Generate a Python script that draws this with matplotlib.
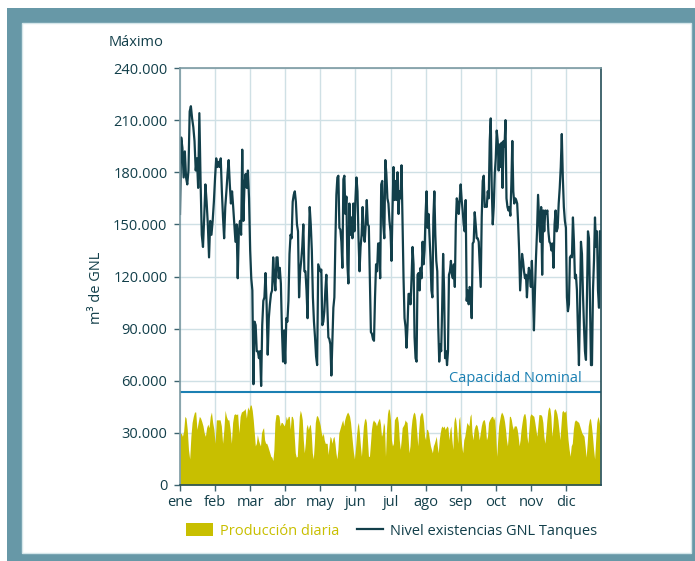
import numpy as np
import matplotlib
matplotlib.use("Agg")
from matplotlib import pyplot as plt
from matplotlib.patches import Rectangle, Patch
from matplotlib.lines import Line2D

plt.rcParams['font.family'] = ['Open Sans', 'DejaVu Sans']

meses = ["ene", "feb", "mar", "abr", "may", "jun", "jul", "ago", "sep", "oct", "nov", "dic"]

# Nivel de existencias en tanques (miles de m3), lecturas diarias por mes
nivel_ene = [156, 200, 194, 177, 192, 177, 173, 181, 215, 218, 211, 206, 198, 181, 188, 171, 214,
             175, 144, 137, 154, 173, 163, 150, 131, 152, 144, 152, 163]
nivel_feb = [177, 188, 183, 186, 183, 188, 169, 154, 142, 160, 169, 179, 187, 173, 162, 169, 160,
             150, 140, 150, 119, 146, 152, 144, 193, 152, 173, 179, 171, 181, 165]
nivel_mar = [135, 119, 112, 58, 94, 92, 77, 77, 73, 77, 57, 92, 106, 108, 122, 104, 75, 96, 104,
             110, 112, 131, 119, 112, 131, 131, 119, 125, 116, 89, 71, 89]
nivel_abr = [70, 96, 94, 106, 133, 144, 142, 163, 167, 169, 163, 150, 146, 108, 123, 129, 137, 150,
             123, 123, 112, 96, 135, 160, 150, 135, 108, 94, 85, 74, 69, 127, 125]
nivel_may = [123, 124, 92, 94, 100, 112, 121, 102, 85, 84, 81, 63, 83, 102, 108, 140, 167, 177, 178,
             148, 147, 140, 125, 176, 178, 156, 166, 127, 116, 162, 144, 154, 142, 162, 146]
nivel_jun = [164, 177, 169, 142, 123, 137, 144, 160, 144, 140, 150, 164, 150, 149, 119, 88, 87, 84,
             83, 108, 127, 123, 139, 139, 119, 173, 175, 150, 142, 187, 179, 165, 162, 152]
nivel_jul = [146, 129, 158, 183, 164, 175, 164, 180, 156, 169, 165, 184, 152, 119, 96, 91, 79, 92,
             110, 110, 104, 119, 137, 127, 85, 73, 71, 121, 122, 112, 125, 119, 140, 127, 135]
nivel_ago = [156, 169, 148, 156, 144, 131, 112, 108, 154, 169, 144, 129, 123, 91, 71, 81, 77, 102,
             133, 112, 73, 77, 69, 77, 121, 123, 129, 121, 119, 127, 114, 150, 165, 162, 156, 164]
nivel_sep = [173, 164, 158, 150, 146, 164, 106, 112, 104, 114, 112, 96, 139, 140, 157, 150, 142, 142,
             140, 127, 114, 154, 175, 178, 160, 161, 160, 169, 165, 198, 211, 171, 150, 160, 179]
nivel_oct = [188, 204, 198, 181, 196, 183, 197, 171, 198, 195, 210, 165, 160, 158, 160, 155, 173, 198,
             169, 162, 165, 164, 162, 150, 135, 112, 123, 133, 129, 123, 119, 121, 108, 119, 125, 121]
nivel_nov = [114, 129, 112, 89, 112, 131, 146, 167, 154, 140, 160, 121, 158, 146, 158, 156, 158, 146,
             140, 139, 135, 139, 125, 150, 158, 146, 148, 162, 171, 183, 202, 177, 160, 152]
nivel_dic = [148, 108, 100, 104, 131, 132, 131, 154, 140, 119, 121, 112, 89, 69, 102, 140, 133, 110,
             92, 77, 72, 110, 146, 142, 104, 69, 69, 112, 129, 154, 137, 146, 112, 102, 146]

# Producción diaria (miles de m3)
prod_ene = [29, 30, 28, 31, 39.5, 38.5, 32, 20.5, 15, 28, 36, 39.5, 42, 42, 32, 36, 39.5, 38.5, 36.5,
            34, 30, 28, 33, 35, 33, 39.5, 42, 36, 32]
prod_feb = [24, 37.5, 37.5, 37.5, 37.5, 34, 24, 32, 43, 39.5, 37.5, 37.5, 32, 24, 36, 40.5, 41, 40.5,
            41, 30, 39.5, 42, 42.5, 43, 44, 38.5, 45, 43]
prod_mar = [46, 46, 43, 37.5, 30, 22.5, 24, 29, 26, 24, 22.5, 30, 32, 33, 26, 24, 24, 22.5, 20.5,
            18.5, 16.5, 16, 14, 20.5, 36, 40.5, 40.5, 40.5, 39.5, 34, 36, 36, 35, 34]
prod_abr = [36, 39.5, 37.5, 39.5, 39.5, 32, 39.5, 39.5, 37.5, 28, 18.5, 16, 16.5, 28, 39.5, 43, 41,
            37.5, 26, 18.5, 24, 33, 35, 32, 34, 35, 29, 18.5, 15, 24, 36, 39.5, 40, 38.5, 36.5]
prod_may = [34, 30, 28, 30, 26, 24, 24, 24, 17.5, 23, 28, 27, 24, 27, 28, 24, 18.5, 15, 20.5, 30, 32,
            34, 36, 37.5, 34, 37.5, 39.5, 41, 42, 41, 39.5, 36, 30, 24, 18.5, 15]
prod_jun = [20.5, 28, 34, 36, 30, 22.5, 16.5, 26, 34, 37.5, 38.5, 36, 26, 16.5, 16.5, 24, 32, 36,
            37.5, 36.5, 36, 34, 36, 37.5, 38.5, 35, 28, 30, 36, 34, 16.5, 32, 41, 44, 43]
prod_jul = [37.5, 26, 22.5, 24, 37.5, 38.5, 39.5, 39.5, 36, 26, 20.5, 26, 33, 34, 35, 37.5, 36.5, 36,
            28, 18.5, 22.5, 32, 37.5, 40.5, 42, 41, 37.5, 30, 22.5, 32, 39.5, 41, 42, 40.5, 36, 28]
prod_ago = [26, 32, 32, 30, 26, 22.5, 20.5, 18.5, 22.5, 24, 26, 28, 22.5, 18.5, 26, 30, 33, 34, 33,
            34, 32, 33, 34, 33, 26, 32, 34, 26, 20.5, 36, 39.5, 37.5, 32, 24, 37.5, 39.5]
prod_sep = [30, 22.5, 18.5, 26, 28, 32, 36, 35, 34, 39.5, 41, 30, 26, 32, 34, 35, 34, 31, 26, 30, 34,
            36.5, 37.5, 37.5, 34, 26, 28, 36, 37.5, 38.5, 39.5, 39.5, 37.5, 39.5]
prod_oct = [28, 16.5, 26, 34, 37.5, 40.5, 42, 41, 39.5, 36.5, 32, 26, 22.5, 30, 39.5, 39.5, 37.5, 34,
            32, 34, 34, 34, 32, 28, 22.5, 26, 32, 36, 39.5, 41, 41, 37.5, 28, 24, 32, 39.5]
prod_nov = [41, 40.5, 40, 39.5, 36, 32, 28, 34, 40.5, 40.5, 40.5, 39.5, 36, 28, 24, 30, 37.5, 43, 45,
            44, 39.5, 28, 34, 43, 44, 43, 41, 37.5, 32, 26, 34, 42, 43, 42, 42]
prod_dic = [43, 34, 26, 20.5, 16.5, 22.5, 24, 32, 36.5, 37.5, 37, 36.5, 36, 34, 32, 30, 29, 28, 22.5,
            16, 24, 34, 37.5, 38.5, 34, 28, 20.5, 15, 26, 36, 39.5, 37.5, 34]

capacidad_nominal = 53700
y_ticks = [0, 30000, 60000, 90000, 120000, 150000, 180000, 210000, 240000]

nivel_meses = [nivel_ene, nivel_feb, nivel_mar, nivel_abr, nivel_may, nivel_jun,
               nivel_jul, nivel_ago, nivel_sep, nivel_oct, nivel_nov, nivel_dic]
prod_meses = [prod_ene, prod_feb, prod_mar, prod_abr, prod_may, prod_jun,
              prod_jul, prod_ago, prod_sep, prod_oct, prod_nov, prod_dic]


def serie(meses_vals):
    # reparte las lecturas de cada mes a lo largo de su tramo del eje
    xs, ys = [], []
    for m, vals in enumerate(meses_vals):
        n = len(vals)
        xs.extend(m + np.arange(n) / n)
        ys.extend(np.array(vals) * 1000)
    return np.array(xs), np.array(ys)


x_nivel, y_nivel = serie(nivel_meses)
x_prod, y_prod = serie(prod_meses)

W, H = 695, 561
fig = plt.figure(figsize=(W / 100, H / 100), dpi=100)

# marco exterior
fig.patches.append(Rectangle((7 / W, 0), 1 - 7 / W, 1 - 8 / H, transform=fig.transFigure,
                             facecolor="#6798a7", edgecolor="none", zorder=-2))
fig.patches.append(Rectangle((22 / W, 8 / H), (691 - 22) / W, (553 - 23) / H,
                             transform=fig.transFigure, facecolor="white",
                             edgecolor="#d5e6ea", linewidth=1, zorder=-1))

ax = fig.add_axes([180 / W, (H - 485) / H, (601 - 180) / W, (485 - 68) / H])
ax.set_facecolor("none")

oscuro = "#123f4a"
amarillo = "#c8bf00"
azul = "#1b80b3"

ax.fill_between(x_prod, 0, y_prod, color=amarillo, linewidth=0, zorder=2)
ax.plot(x_nivel, y_nivel, color=oscuro, linewidth=1.6, zorder=3)
ax.axhline(capacidad_nominal, color=azul, linewidth=1.5, zorder=4)
ax.text(11.45, capacidad_nominal + 3000, "Capacidad Nominal", color=azul, fontsize=10.5,
        ha="right", va="bottom")

ax.set_xlim(0, 12)
ax.set_ylim(0, 240000)
ax.set_xticks(range(12))
ax.set_xticklabels(meses)
ax.set_yticks(y_ticks)
ax.set_yticklabels([f"{v:,}".replace(",", ".") for v in y_ticks])
ax.set_axisbelow(True)
ax.grid(True, which="major", axis="both", color="#cfe0e5", linewidth=1)
ax.tick_params(axis="both", which="major", labelsize=10.5, labelcolor=oscuro, color="#3d6470",
               length=4, width=1)
ax.tick_params(axis="x", pad=3)
ax.tick_params(axis="y", pad=5)
for lado in ["left", "top"]:
    ax.spines[lado].set_color("#7c9aa2")
for lado in ["right", "bottom"]:
    ax.spines[lado].set_color("#244e58")
for s in ax.spines.values():
    s.set_linewidth(1.2)
    s.set_zorder(5)

fig.text(163 / W, 1 - 42 / H, "Máximo", ha="right", va="center", fontsize=10.5, color=oscuro)
fig.text(97 / W, 1 - 288 / H, "m³ de GNL", ha="center", va="center", rotation=90,
         fontsize=10.5, color=oscuro)

handles = [Patch(facecolor=amarillo, edgecolor="none"),
           Line2D([], [], color=oscuro, linewidth=1.6)]
leg = fig.legend(handles, ["Producción diaria", "Nivel existencias GNL Tanques"],
                 loc="center", bbox_to_anchor=(392 / W, 1 - 531 / H), ncol=2, frameon=False,
                 fontsize=10.5, handlelength=1.8, handleheight=1.0, columnspacing=1.2,
                 handletextpad=0.5)
leg.get_texts()[0].set_color(amarillo)
leg.get_texts()[1].set_color(oscuro)

fig.savefig("out.png", dpi=100)
